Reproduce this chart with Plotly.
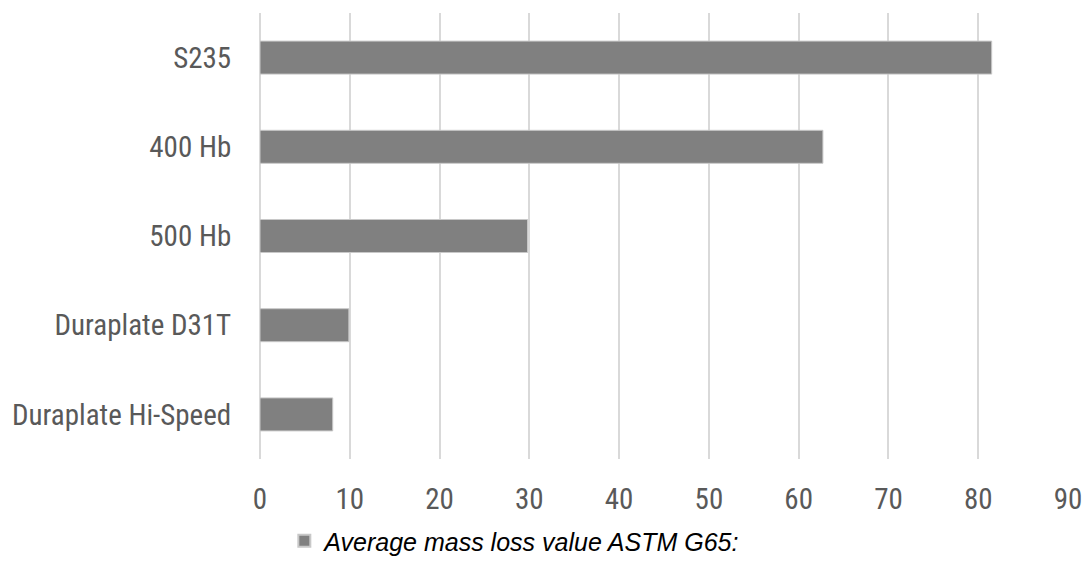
import plotly.graph_objects as go

categories = ["S235", "400 Hb", "500 Hb", "Duraplate D31T", "Duraplate Hi-Speed"]
mass_loss = [81.5, 62.7, 29.8, 9.9, 8.1]
x_ticks = [0, 10, 20, 30, 40, 50, 60, 70, 80, 90]
series_name = "Average mass loss value ASTM G65:"

narrow = "Liberation Sans Narrow, Arial Narrow, Roboto Condensed, DejaVu Sans Condensed, Liberation Sans, Arial, sans-serif"

fig = go.Figure()
fig.add_trace(go.Bar(
    y=categories, x=mass_loss, orientation="h", name=series_name,
    marker=dict(color="#808080", line=dict(color="#c8c8c8", width=1)),
    showlegend=True,
))

fig.update_layout(
    width=1086, height=567,
    margin=dict(l=260, r=18, t=13, b=108, autoexpand=False),
    paper_bgcolor="white", plot_bgcolor="white",
    bargap=0.63,
    showlegend=True,
    legend=dict(orientation="h", x=0.316, xanchor="center", y=-0.184, yanchor="middle",
                font=dict(family="Liberation Sans, Arial, sans-serif", size=25, color="#000000", style="italic"),
                itemsizing="constant"),
    xaxis=dict(range=[0, 90], tickvals=x_ticks, showgrid=True, gridcolor="#d9d9d9", gridwidth=1.5,
               zeroline=True, zerolinecolor="#d9d9d9", zerolinewidth=1.5, showline=False,
               ticks="outside", ticklen=14, tickcolor="rgba(0,0,0,0)", automargin=False,
               tickfont=dict(family=narrow, size=29, color="#595959")),
    yaxis=dict(autorange="reversed", showgrid=False, showline=False, zeroline=False,
               ticks="outside", ticklen=22, tickcolor="rgba(0,0,0,0)", automargin=False,
               tickfont=dict(family=narrow, size=29, color="#595959")),
)

fig.write_html("out.html", config={"displayModeBar": False},
               post_script="document.body.style.margin='0';document.body.style.overflow='hidden';")
